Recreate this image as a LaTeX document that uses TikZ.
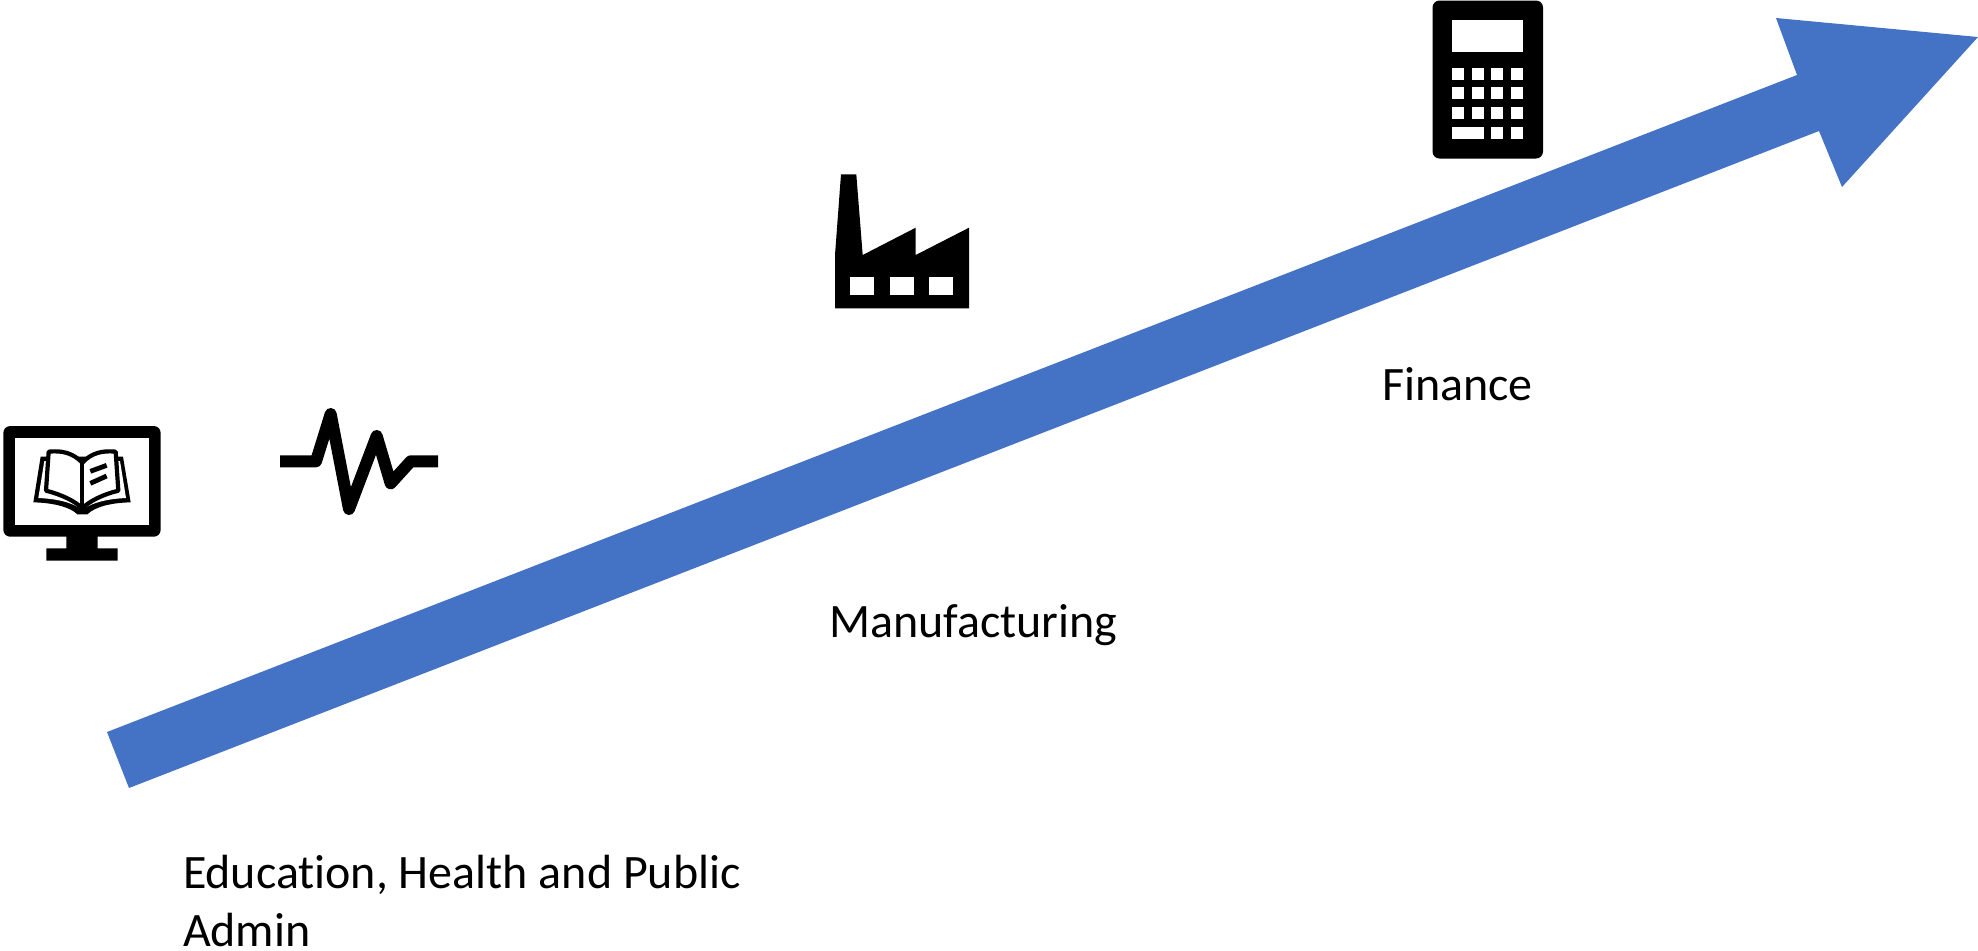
\documentclass[tikz,border=0pt]{standalone}
\usepackage{fontspec}
\setmainfont[Ligatures=NoCommon]{Carlito}
\definecolor{arrowblue}{HTML}{4472C4}
\tikzset{
  label text/.style={anchor=base west,inner sep=0pt,outer sep=0pt,font=\fontsize{24pt}{29pt}\selectfont,text=black},
  icon/.style={fill=black,draw=none},
  hole/.style={fill=white,draw=none},
  zoomed/.style={x=0.16667pt,y=-0.16667pt}
}
\begin{document}
\begin{tikzpicture}[x=0.5pt,y=-0.5pt]
\useasboundingbox (0,0) rectangle (1978,950);
% main arrow
\fill[arrowblue] (107,732) -- (1797,75) -- (1776,18) -- (1978,37) -- (1842,187) -- (1819,131) -- (129,788) -- cycle;
% calculator
\fill[icon,rounded corners=3.5pt] (1432.5,0.5) rectangle (1543,158.5);
\fill[hole] (1452,20) rectangle (1523,52);
\foreach \yy in {67.7,87.4,107.3} \foreach \xx in {1452,1471.6,1491.3,1511}
  \fill[hole] (\xx,\yy) rectangle ++(12,12);
\fill[hole] (1452,127) rectangle (1483.6,139);
\foreach \xx in {1491.3,1511} \fill[hole] (\xx,127) rectangle ++(12,12);
% factory
\fill[icon] (841,174.3) -- (856.3,174.3) -- (862.7,255) -- (915.7,227.7) -- (915.7,255) -- (969,227.7) -- (969,308.3) -- (835,308.3) -- (835,255) -- cycle;
\foreach \xx in {850.3,890,929.3} \fill[hole] (\xx,277) rectangle ++(24,18);
% monitor
\fill[icon,rounded corners=3.5pt] (3.3,426) rectangle (160.7,536.7);
\fill[icon] (66.3,530) rectangle (97.7,550) (46.3,548.3) rectangle (117.7,560.7);
\fill[hole] (15,437.7) rectangle (149,525);
% book and pulse in zoomed coordinates
\begin{scope}[shift={(0,400)},zoomed]
  \fill[icon] (100,307) -- (122,170) -- (148,170) -- (345,170) -- (369,170) -- (392,307)
     .. controls (335,308) and (285,320) .. (262,343) -- (232,343) .. controls (210,320) and (155,308) .. (100,307) -- cycle;
  \fill[hole] (115,294) -- (133,183) -- (360,183) -- (378,294)
     .. controls (330,296) and (275,306) .. (247,330) .. controls (218,306) and (165,296) .. (115,294) -- cycle;
  \draw[line width=2.1pt,line join=round,fill=white] (247,188) .. controls (218,158) and (185,151) .. (146,155)
     -- (138,272) .. controls (183,283) and (225,303) .. (247,325)
     .. controls (268,303) and (310,283) .. (355,272) -- (347,155) .. controls (308,151) and (275,158) .. (247,188) -- cycle;
  \draw[line width=2.1pt] (247,188) -- (247,325);
  \draw[line width=2.4pt] (271,214) -- (320,196) (271,250) -- (320,228);
  \draw[line width=6pt,line join=round] (840,184) -- (948,184) -- (992,42) -- (1047,327) -- (1130,108) -- (1172,250) -- (1232,184) -- (1314,184);
\end{scope}
% labels
\node[label text] (finance) at (1382,400) {Finance};
\node[label text] (manufacturing) at (829,637) {Manufacturing};
\node[label text] (education) at (183,888) {Education, Health and Public};
\node[label text] (admin) at (183,946) {Admin};
\end{tikzpicture}
\end{document}
